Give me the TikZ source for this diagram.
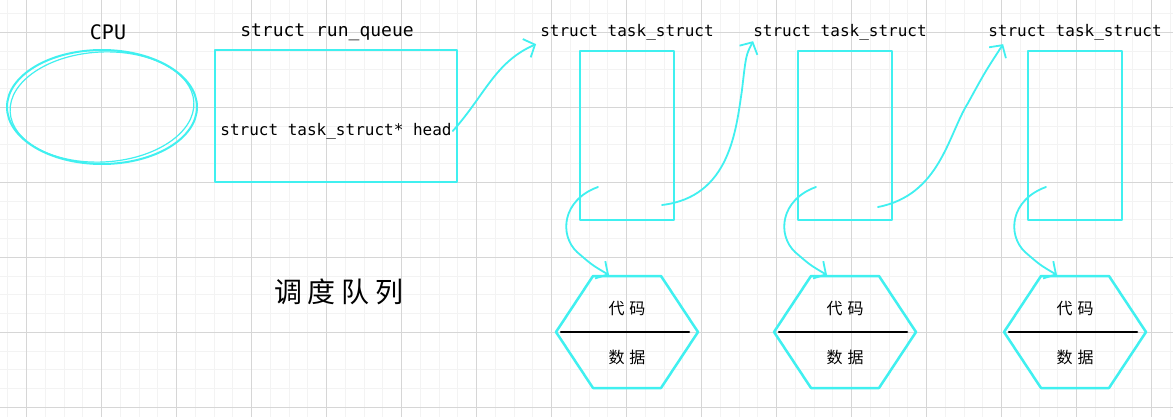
\documentclass[tikz,border=0pt]{standalone}
\usepackage{fontspec}
\setmainfont{DejaVu Sans Mono}
\newfontfamily\cjk{Noto Sans CJK SC}
\usetikzlibrary{shapes.geometric,arrows.meta}
\definecolor{sketch}{RGB}{64,240,240}
\definecolor{gridmajor}{RGB}{214,214,214}
\definecolor{gridminor}{RGB}{243,243,243}
\tikzset{
  box/.style={draw=sketch,line width=2.5pt,minimum width=94pt,minimum height=169pt},
  title/.style={font=\fontsize{16}{16}\selectfont,inner sep=1pt},
  hanzi/.style={font=\cjk\fontsize{16}{16}\selectfont,inner sep=1pt},
  link/.style={draw=sketch,line width=1.8pt,->},
  hexline/.style={draw=sketch,line width=2.5pt},
}
\begin{document}
\begin{tikzpicture}[line cap=round,line join=round,x=1pt,y=-1pt,>={Straight Barb[length=9pt,width=20pt]}]
	\useasboundingbox (0,0) rectangle (1173,417);
	\fill[white] (0,0) rectangle (1173,417);
	% grid
	\foreach \gx in {7.95,26.7,...,1173} \draw[gridminor,line width=1pt] (\gx,0) -- (\gx,417);
	\foreach \gy in {13.55,32.3,...,417} \draw[gridminor,line width=1pt] (0,\gy) -- (1173,\gy);
	\foreach \gx in {26.7,101.7,...,1173} \draw[gridmajor,line width=1pt] (\gx,0) -- (\gx,417);
	\foreach \gy in {32.3,107.3,...,417} \draw[gridmajor,line width=1pt] (0,\gy) -- (1173,\gy);
	% cpu
	\node[draw=sketch,line width=2pt,ellipse,minimum width=190pt,minimum height=114pt] (cpu) at (102,107) {};
	\draw[sketch,line width=1.2pt,rotate around={3:(cpu.center)}] (cpu.center) ellipse (92pt and 55pt);
	\node[title,font=\fontsize{20}{20}\selectfont] (cpulbl) at (108,32) {CPU};
	% run queue
	\node[box,minimum width=242pt,minimum height=132pt] (rq) at (336,116) {};
	\node[title,font=\fontsize{18}{18}\selectfont] (rqlbl) at (327,32) {struct run\_queue};
	\node[title] (head) at (336,131) {struct task\_struct* head};
	\node[font=\cjk\fontsize{28}{28}\selectfont] (rqname) at (339,292) {调\hspace{6pt}度\hspace{6pt}队\hspace{6pt}列};
	% tasks
	\foreach \i/\x/\lx in {1/627/627,2/845/840,3/1075/1075}{
		\node[box] (t\i) at (\x,135.5) {};
		\node[title] (l\i) at (\lx,32) {struct task\_struct};
		\coordinate (in\i) at (\x-29,187);
		\coordinate (top\i) at (\x-18,275);
		\draw[hexline] (\x-34,276) -- (\x+34,276) -- (\x+71,332) -- (\x+34,388) -- (\x-34,388) -- (\x-71,332) -- cycle;
		\draw[black,line width=2.5pt] (\x-66,332) -- (\x+62,332);
		\node[hanzi] (code\i) at (\x,309) {代\hspace{5pt}码};
		\node[hanzi] (data\i) at (\x,357) {数\hspace{5pt}据};
		\draw[link] (in\i) .. controls (\x-65,200) and (\x-68,235) .. (\x-50,252) .. controls (\x-35,265) .. (top\i);
	}
	\coordinate (out1) at (662,205);
	\coordinate (out2) at (878,207);
	\draw[link] (head.east) .. controls (485,95) and (495,62) .. ([shift={(-3,3)}]l1.south west);
	\draw[link] (out1) .. controls (730,197) and (736,130) .. (742,90) .. controls (746,55) .. ([shift={(1,0)}]l2.south west);
	\draw[link] (out2) .. controls (940,195) and (948,135) .. (968,103) .. controls (985,72) .. ([shift={(16,3)}]l3.south west);
\end{tikzpicture}
\end{document}
